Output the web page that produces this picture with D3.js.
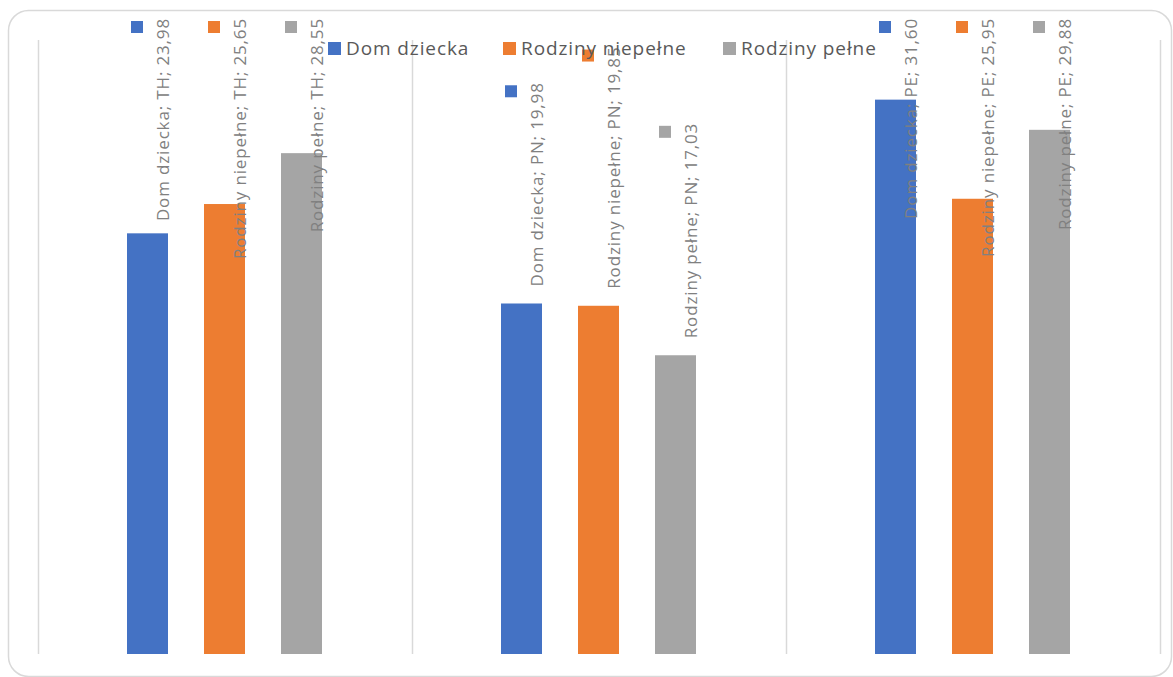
<!DOCTYPE html>
<html>
<head>
<meta charset="utf-8">
<script src="https://cdn.jsdelivr.net/npm/d3@7"></script>
<style>
  html, body { margin: 0; padding: 0; background: #ffffff; }
  svg { display: block; }
</style>
</head>
<body>
<svg id="chart" width="1173" height="677"></svg>
<script>
// Categories (groups along the x axis)
const categories = ["TH", "PN", "PE"];
// Series names
const seriesNames = ["Dom dziecka", "Rodziny niepełne", "Rodziny pełne"];
// Values per series, in category order
const domDziecka = [23.98, 19.98, 31.60];
const rodzinyNiepelne = [25.65, 19.85, 25.95];
const rodzinyPelne = [28.55, 17.03, 29.88];
const seriesValues = [domDziecka, rodzinyNiepelne, rodzinyPelne];
const seriesColors = ["#4472C4", "#ED7D31", "#A5A5A5"];

const svg = d3.select("#chart");
const FONT = "'Open Sans', 'Noto Sans', sans-serif";

// Outer chart frame with rounded corners
svg.append("rect")
  .attr("x", 8.5).attr("y", 10.5)
  .attr("width", 1163).attr("height", 666)
  .attr("rx", 20).attr("ry", 20)
  .attr("fill", "#ffffff")
  .attr("stroke", "#d9d9d9")
  .attr("stroke-width", 1.5);

const plot = { left: 37.5, right: 1159.5, top: 40, bottom: 654 };

const x0 = d3.scaleBand()
  .domain(categories)
  .range([plot.left, plot.right])
  .paddingInner(0).paddingOuter(0);

// Offsets of each series' bar centre inside a category
const x1 = d3.scalePoint()
  .domain(seriesNames)
  .range([-77, 77]);
const barWidth = 41;

const y = d3.scaleLinear()
  .domain([0, 35])
  .range([plot.bottom, plot.top]);

// Vertical gridlines at category boundaries
const bounds = categories.map(c => x0(c)).concat([x0(categories[categories.length - 1]) + x0.bandwidth()]);
svg.append("g").selectAll("line")
  .data(bounds)
  .join("line")
  .attr("x1", d => Math.round(d) + 0.5).attr("x2", d => Math.round(d) + 0.5)
  .attr("y1", plot.top).attr("y2", plot.bottom)
  .attr("stroke", "#d9d9d9")
  .attr("stroke-width", 1.5);

// Flattened records
const records = [];
seriesNames.forEach((s, si) => {
  categories.forEach((c, ci) => {
    records.push({ series: s, si, cat: c, value: seriesValues[si][ci] });
  });
});

const cx = d => x0(d.cat) + x0.bandwidth() / 2 + x1(d.series);

// Bars
svg.append("g").selectAll("rect")
  .data(records)
  .join("rect")
  .attr("x", d => cx(d) - barWidth / 2)
  .attr("width", barWidth)
  .attr("y", d => y(d.value))
  .attr("height", d => y(0) - y(d.value))
  .attr("fill", d => seriesColors[d.si]);

// Rotated data labels with a legend key, kept inside the chart frame
const fmt = v => v.toFixed(2).replace(".", ",");
const labelTopLimit = 18;
const labels = svg.append("g");
records.forEach(d => {
  const g = labels.append("g");
  const t = g.append("text")
    .attr("font-family", FONT)
    .attr("font-size", 17)
    .attr("letter-spacing", "0.85px")
    .attr("fill", "#808080")
    .attr("text-anchor", "start")
    .text(`${d.series}; ${d.cat}; ${fmt(d.value)}`);
  const len = t.node().getBBox().width;
  let start = y(d.value) - 17;
  if (start - len < labelTopLimit) start = labelTopLimit + len;
  const bx = cx(d) + 21.5;
  t.attr("transform", `translate(${bx},${start}) rotate(-90)`);
  g.append("rect")
    .attr("x", cx(d) - 16.5)
    .attr("y", start - len + 3)
    .attr("width", 12).attr("height", 12)
    .attr("fill", seriesColors[d.si]);
});

// Legend
const legendX = [328, 503, 723];
const legend = svg.append("g");
seriesNames.forEach((s, i) => {
  legend.append("rect")
    .attr("x", legendX[i]).attr("y", 42)
    .attr("width", 13).attr("height", 13)
    .attr("fill", seriesColors[i]);
  legend.append("text")
    .attr("x", legendX[i] + 18).attr("y", 55)
    .attr("font-family", FONT)
    .attr("font-size", 19)
    .attr("letter-spacing", "0.9px")
    .attr("fill", "#595959")
    .text(s);
});
</script>
</body>
</html>
